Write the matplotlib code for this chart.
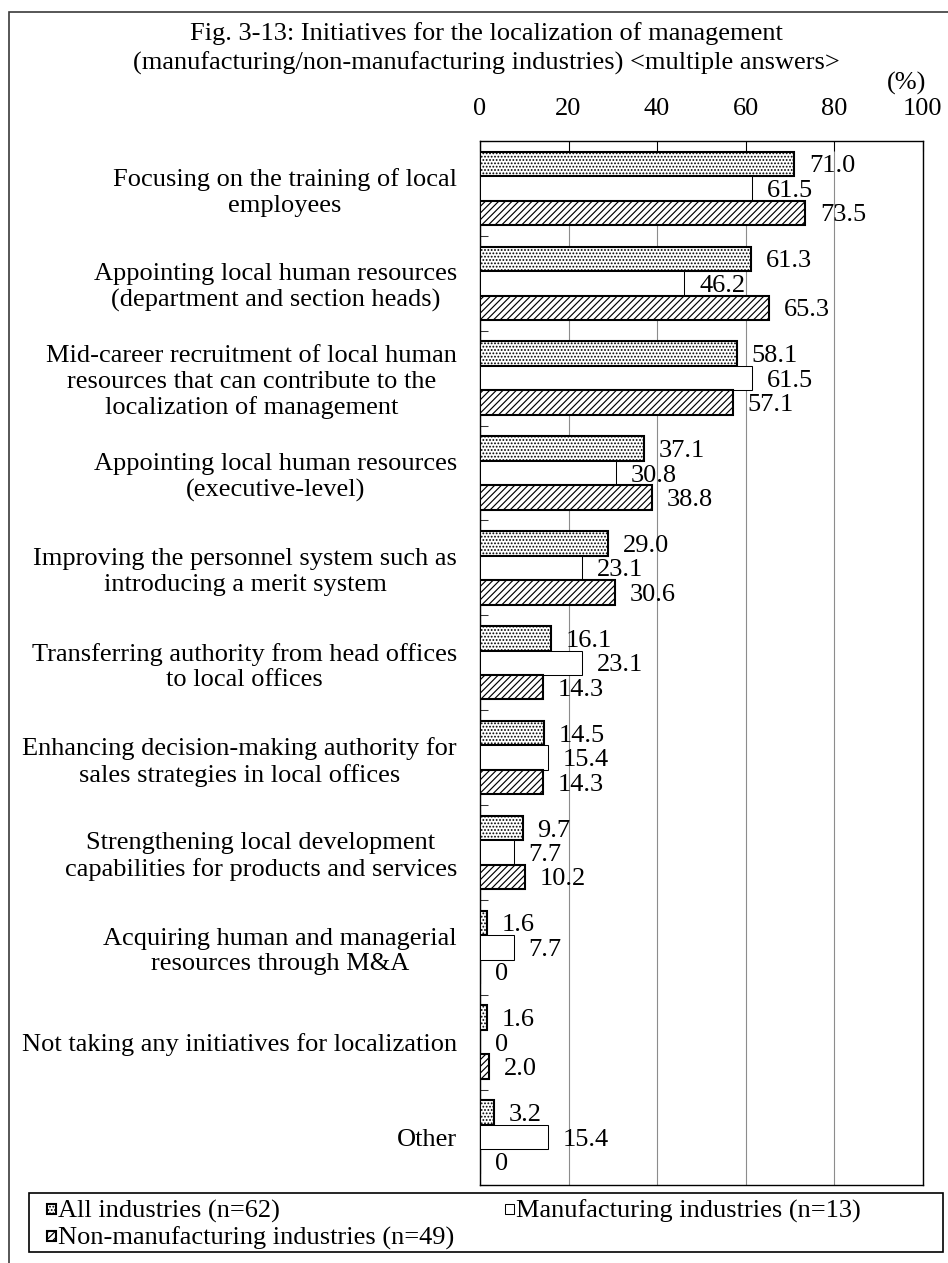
import numpy as np
import matplotlib.pyplot as plt
from matplotlib.patches import Rectangle

plt.rcParams['font.family'] = ['Liberation Serif', 'DejaVu Serif']
plt.rcParams['hatch.linewidth'] = 0.85

# --- data ---
categories = [
    "Focusing on the training of local\nemployees",
    "Appointing local human resources\n(department and section heads)",
    "Mid-career recruitment of local human\nresources that can contribute to the\nlocalization of management",
    "Appointing local human resources\n(executive-level)",
    "Improving the personnel system such as\nintroducing a merit system",
    "Transferring authority from head offices\nto local offices",
    "Enhancing decision-making authority for\nsales strategies in local offices",
    "Strengthening local development\ncapabilities for products and services",
    "Acquiring human and managerial\nresources through M&A",
    "Not taking any initiatives for localization",
    "Other",
]
all_ind = [71.0, 61.3, 58.1, 37.1, 29.0, 16.1, 14.5, 9.7, 1.6, 1.6, 3.2]
manuf = [61.5, 46.2, 61.5, 30.8, 23.1, 23.1, 15.4, 7.7, 7.7, 0, 15.4]
non_manuf = [73.5, 65.3, 57.1, 38.8, 30.6, 14.3, 14.3, 10.2, 0, 2.0, 0]
series_names = ["All industries (n=62)", "Manufacturing industries (n=13)",
                "Non-manufacturing industries (n=49)"]
x_ticks = [0, 20, 40, 60, 80, 100]

title_1 = "Fig. 3-13: Initiatives for the localization of management"
title_2 = "(manufacturing/non-manufacturing industries) <multiple answers>"

FS = 19
W, H = 948, 1263

styles = [
    dict(facecolor='white', edgecolor='black', hatch='.....', linewidth=1.5),
    dict(facecolor='white', edgecolor='black', linewidth=0.75),
    dict(facecolor='white', edgecolor='black', hatch='/////', linewidth=1.5),
]

fig = plt.figure(figsize=(W / 100, H / 100), dpi=100)
ax = fig.add_axes([480 / W, 1 - 1184.5 / H, 442.5 / W, (1184.5 - 141) / H])

y = np.arange(len(categories))
bh = 0.258
series = [all_ind, manuf, non_manuf]
for k, (vals, st) in enumerate(zip(series, styles)):
    pos = y + (k - 1) * bh
    ax.barh(pos, vals, height=bh, zorder=3, **st)
    for p, v in zip(pos, vals):
        txt = "0" if v == 0 else f"{v:.1f}"
        ax.annotate(txt, xy=(v, p), xytext=(10.5, 0), textcoords='offset points',
                    ha='left', va='center_baseline', fontsize=FS, zorder=4)

ax.set_xlim(0, 100)
ax.set_ylim(len(categories) - 0.5, -0.5)
ax.set_xticks(x_ticks)
ax.xaxis.tick_top()
ax.tick_params(axis='x', direction='in', length=7, width=0.75, pad=15, labelsize=FS)
ax.grid(axis='x', color='#8c8c8c', linewidth=0.8, zorder=0)
ax.set_axisbelow(True)

ax.set_yticks(y)
ax.set_yticklabels(categories, fontsize=FS, linespacing=1.2)
for lab in ax.get_yticklabels():
    lab.set_multialignment('center')
ax.set_yticks(np.arange(len(categories) + 1) - 0.5, minor=True)
ax.tick_params(axis='y', which='major', length=0, pad=16.5)
ax.tick_params(axis='y', which='minor', direction='in', length=6, width=0.75, color='#333333')
for s in ax.spines.values():
    s.set_linewidth(1.0)
    s.set_color('black')

# titles
fig.text(486 / W, 1 - 34 / H, title_1, ha='center', va='center', fontsize=FS)
fig.text(486 / W, 1 - 63 / H, title_2, ha='center', va='center', fontsize=FS)
fig.text(907 / W, 1 - 83 / H, "(%)", ha='center', va='center', fontsize=FS)

# outer frame (cut off at right and bottom)
fig.add_artist(Rectangle((9 / W, -0.2), 2, 1.2 - 12 / H, transform=fig.transFigure,
                         fill=False, edgecolor='#3a3a3a', linewidth=1.2))

# legend box and entries
fig.add_artist(Rectangle((29 / W, 1 - 1252 / H), 914 / W, 59 / H, transform=fig.transFigure,
                         fill=False, edgecolor='black', linewidth=1.2))
leg_pos = [(47, 1208.5), (505, 1208.5), (47, 1235.5)]
for (lx, ly), name, st in zip(leg_pos, series_names, styles):
    fig.add_artist(Rectangle((lx / W, 1 - (ly + 5) / H), 8.5 / W, 10 / H,
                             transform=fig.transFigure, **st))
    fig.text((lx + 11) / W, 1 - ly / H, name, ha='left', va='center_baseline', fontsize=FS)

fig.savefig("out.png", dpi=100)
